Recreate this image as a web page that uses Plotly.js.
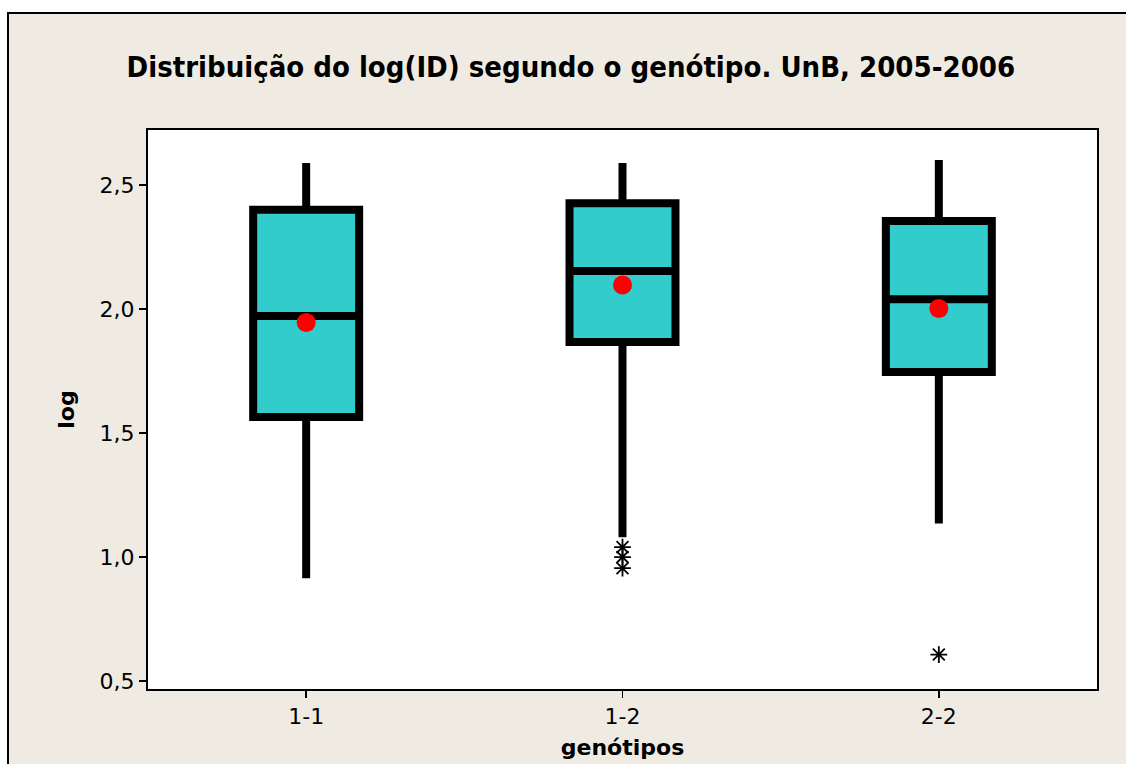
<!DOCTYPE html>
<html><head><meta charset="utf-8">
<script src="https://cdn.plot.ly/plotly-3.0.1.min.js"></script>
<style>
html,body{margin:0;padding:0;background:#ffffff;overflow:hidden;}
#frame{position:absolute;left:7px;top:12px;width:1119px;height:752px;border-top:2px solid #000;border-left:2px solid #000;box-sizing:border-box;background:#EFEBE2;}
#chart{width:1117px;height:750px;}
</style></head><body><div id="frame"><div id="chart"></div></div>
<script>
const categories = ['1-1', '1-2', '2-2'];
const lowerWhisker = [0.915, 1.08, 1.135];
const q1Values = [1.565, 1.867, 1.746];
const medianValues = [1.972, 2.153, 2.040];
const q3Values = [2.400, 2.427, 2.355];
const upperWhisker = [2.589, 2.589, 2.601];
const meanValues = [1.946, 2.097, 2.002];
const outlierCategories = ['1-2', '1-2', '1-2', '2-2'];
const outlierValues = [1.04, 1.00, 0.955, 0.607];
const yTicks = [0.5, 1.0, 1.5, 2.0, 2.5];

const font = 'DejaVu Sans, Verdana, sans-serif';
const titleFont = 'DejaVu Sans Condensed, DejaVu Sans, sans-serif';

const boxTrace = {
  type: 'box',
  x: categories,
  q1: q1Values,
  median: medianValues,
  q3: q3Values,
  lowerfence: lowerWhisker,
  upperfence: upperWhisker,
  width: 0.335,
  whiskerwidth: 0,
  fillcolor: '#33CCCC',
  line: {color: '#000000', width: 8},
  boxpoints: false,
  hoverinfo: 'skip',
  showlegend: false
};

const outlierTrace = {
  type: 'scatter',
  mode: 'markers',
  x: outlierCategories,
  y: outlierValues,
  marker: {symbol: 'asterisk-open', size: 14, color: '#000', line: {color: '#000', width: 1.8}},
  hoverinfo: 'skip',
  showlegend: false
};

const meanTrace = {
  type: 'scatter',
  mode: 'markers',
  x: categories,
  y: meanValues,
  marker: {symbol: 'circle', size: 19, color: '#FF0000'},
  hoverinfo: 'skip',
  showlegend: false
};

const layout = {
  width: 1117,
  height: 750,
  paper_bgcolor: '#EFEBE2',
  plot_bgcolor: '#FFFFFF',
  separators: ',.',
  margin: {l: 139, r: 29, t: 116, b: 75},
  font: {family: font, color: '#000', size: 22},
  title: {
    text: '<b>Distribuição do log(ID) segundo o genótipo. UnB, 2005-2006</b>',
    font: {family: titleFont, size: 29, color: '#000'},
    x: 0.503, xanchor: 'center', xref: 'container',
    y: 1 - 53 / 750, yanchor: 'middle', yref: 'container'
  },
  xaxis: {
    type: 'category',
    range: [-0.5, 2.5],
    showline: true, mirror: true, linecolor: '#000', linewidth: 2,
    ticks: 'outside', ticklen: 7, tickwidth: 1.5, tickcolor: '#000',
    showgrid: false, zeroline: false,
    tickfont: {family: font, size: 22},
    title: {text: '<b>genótipos</b>', font: {family: font, size: 22}, standoff: 11}
  },
  yaxis: {
    range: [0.468, 2.722],
    tickvals: yTicks,
    tickformat: '.1f',
    showline: true, mirror: true, linecolor: '#000', linewidth: 2,
    ticks: 'outside', ticklen: 7, tickwidth: 1.5, tickcolor: '#000',
    showgrid: false, zeroline: false,
    tickfont: {family: font, size: 22},
    title: {text: '<b>log</b>', font: {family: font, size: 22}, standoff: 19}
  }
};

Plotly.newPlot('chart', [boxTrace, meanTrace, outlierTrace], layout, {displayModeBar: false, staticPlot: true});
</script>
</body></html>
